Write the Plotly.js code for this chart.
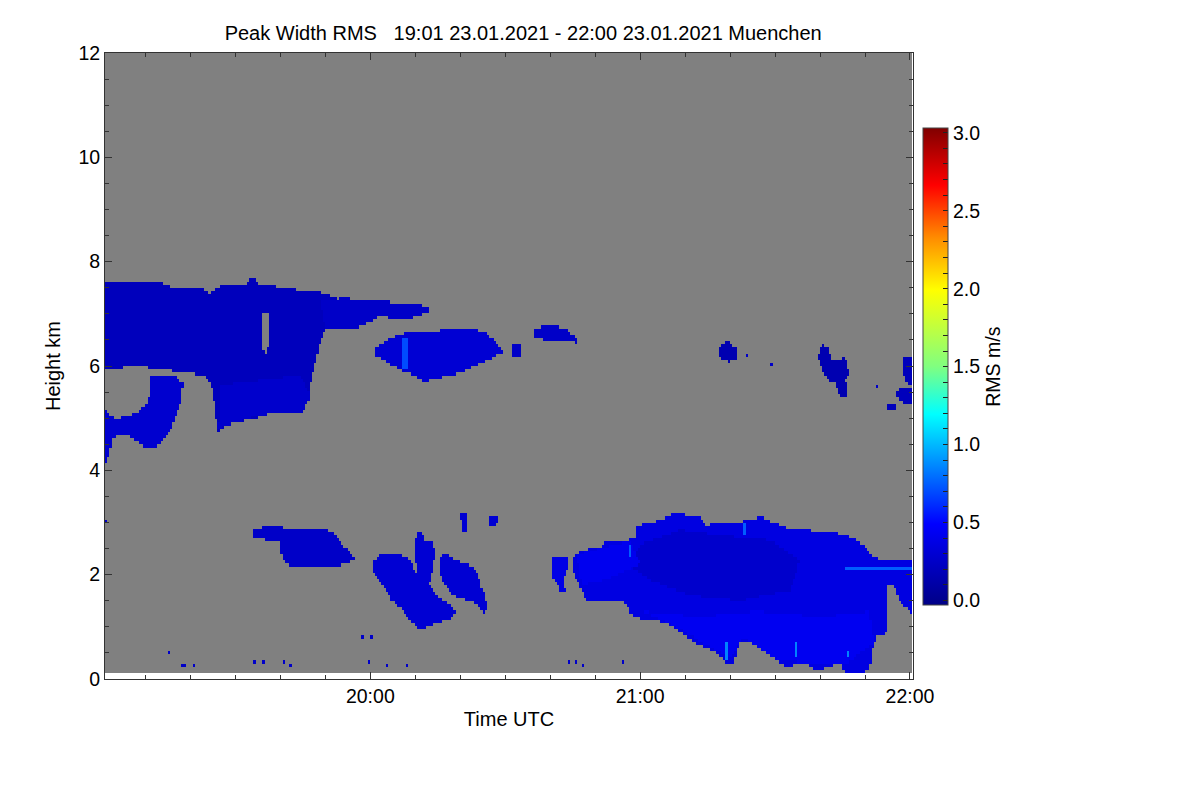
<!DOCTYPE html>
<html>
<head>
<meta charset="utf-8">
<script src="https://cdn.plot.ly/plotly-3.0.1.min.js"></script>
<style>body{margin:0;background:#fff}</style>
</head>
<body>
<div id="rms-chart" style="width:1200px;height:800px"></div>
<script>
// cloud outlines: minutes after 19:00 UTC / height in km
const upperLayerMin = [0.9, 8.9, 14.0, 16.7, 22.9, 24.4, 26.7, 32.2, 33.8, 35.1, 41.1, 44.4, 48.9, 52.2, 53.3, 51.8, 50.0, 48.9, 47.3, 46.2, 44.9, 43.8, 41.6, 38.4, 36.7, 34.9, 32.2, 28.4, 26.0, 25.6, 24.9, 24.0, 20.0, 14.4, 11.1, 7.8, 4.4, 0.9];
const upperLayerKm = [7.65, 7.63, 7.59, 7.49, 7.48, 7.40, 7.53, 7.55, 7.71, 7.57, 7.51, 7.46, 7.42, 7.30, 7.17, 6.98, 6.69, 6.50, 5.92, 5.44, 5.06, 5.25, 5.21, 5.21, 5.06, 5.00, 4.96, 4.87, 4.73, 5.16, 5.54, 5.77, 5.88, 5.92, 5.96, 6.02, 5.96, 5.96];
const curtainMin = [26.7, 44.4, 46.7, 44.9, 35.6, 26.2];
const curtainKm = [5.64, 5.83, 5.44, 5.12, 5.06, 4.81];
const lobeMin = [0.9, 2.9, 6.0, 8.9, 10.7, 11.1, 17.1, 18.4, 17.8, 16.0, 14.0, 11.8, 9.6, 6.0, 2.9, 0.9];
const lobeKm = [5.16, 5.00, 5.02, 5.16, 5.35, 5.83, 5.79, 5.67, 5.29, 4.83, 4.58, 4.43, 4.45, 4.68, 4.64, 4.01];
const bandMin = [48.9, 54.4, 58.9, 64.4, 68.9, 72.9, 72.9, 68.9, 65.6, 62.2, 58.9, 55.6, 53.3, 50.0];
const bandKm = [7.26, 7.30, 7.26, 7.23, 7.21, 7.15, 7.02, 6.92, 6.88, 6.98, 6.79, 6.69, 6.73, 6.69];
const holeMin = [35.8, 37.6, 37.2, 36.3];
const holeKm = [7.02, 7.02, 6.25, 6.25];

const midBlobMin = [60.7, 63.8, 67.3, 73.3, 77.8, 81.6, 86.0, 88.2, 89.6, 87.3, 83.8, 80.0, 76.2, 71.8, 69.6, 66.7, 63.8, 61.1];
const midBlobKm = [6.31, 6.50, 6.63, 6.65, 6.73, 6.75, 6.63, 6.44, 6.27, 6.17, 6.02, 5.87, 5.79, 5.71, 5.83, 5.92, 6.08, 6.21];
const midStreakMin = [67.0, 68.3, 68.3, 67.0];
const midStreakKm = [6.54, 6.54, 5.95, 5.95];
const midDotMin = [91.6, 93.3, 93.3, 91.6];
const midDotKm = [6.44, 6.40, 6.19, 6.19];
const smallUpperMin = [96.4, 97.8, 99.6, 102.2, 104.0, 105.6, 106.0, 103.3, 101.1, 98.9, 96.7];
const smallUpperKm = [6.69, 6.75, 6.79, 6.75, 6.69, 6.56, 6.44, 6.50, 6.46, 6.50, 6.54];

const puffAMin = [137.3, 138.7, 139.6, 140.2, 141.6, 141.8, 140.0, 138.2];
const puffAKm = [6.31, 6.44, 6.54, 6.40, 6.31, 6.17, 6.08, 6.11];
const puffBMin = [160.7, 161.8, 162.7, 164.4, 165.6, 166.2, 166.7, 165.6, 166.2, 165.6, 164.4, 164.0, 163.3, 162.2, 161.1, 160.0, 159.6];
const puffBKm = [6.44, 6.34, 6.15, 6.11, 6.17, 5.96, 5.87, 5.73, 5.54, 5.39, 5.39, 5.54, 5.67, 5.73, 5.83, 6.02, 6.21];
const edgeAMin = [178.4, 181.0, 181.0, 179.3, 178.4];
const edgeAKm = [6.17, 6.17, 5.67, 5.67, 5.88];
const edgeBMin = [177.1, 178.9, 181.0, 181.0, 178.9, 177.1];
const edgeBKm = [5.54, 5.60, 5.60, 5.25, 5.29, 5.39];
const edgeCMin = [174.9, 177.1, 176.7, 175.6, 174.9];
const edgeCKm = [5.31, 5.31, 5.16, 5.14, 5.21];

const lowWestMin = [34.0, 38.4, 40.7, 43.8, 48.2, 51.8, 53.3, 56.2, 56.7, 53.3, 48.9, 46.0, 42.2, 40.4, 40.0, 37.1, 34.0];
const lowWestKm = [2.89, 2.93, 2.91, 2.86, 2.89, 2.82, 2.61, 2.38, 2.28, 2.19, 2.15, 2.13, 2.19, 2.28, 2.61, 2.66, 2.72];
const fallAMin = [60.4, 61.6, 63.3, 66.7, 68.4, 69.6, 70.7, 72.2, 73.8, 75.6, 77.8, 78.9, 77.8, 75.1, 72.2, 70.7, 68.9, 66.7, 64.9, 63.3, 61.8, 60.7];
const fallAKm = [2.22, 2.34, 2.42, 2.38, 2.32, 2.15, 1.99, 1.90, 1.71, 1.55, 1.44, 1.28, 1.17, 1.09, 0.98, 0.98, 1.13, 1.36, 1.51, 1.71, 1.90, 2.05];
const fallBMin = [70.2, 70.7, 71.6, 72.2, 73.8, 74.4, 74.2, 73.3, 72.9, 71.1, 70.4, 70.0];
const fallBKm = [2.66, 2.80, 2.82, 2.66, 2.63, 2.47, 2.19, 1.90, 1.71, 1.80, 2.09, 2.38];
const fallCMin = [75.6, 76.2, 77.3, 80.0, 82.2, 84.0, 84.4, 85.6, 86.0, 85.1, 84.0, 82.2, 80.0, 78.2, 76.7, 75.6];
const fallCKm = [2.28, 2.42, 2.38, 2.24, 2.19, 2.05, 1.80, 1.61, 1.32, 1.23, 1.42, 1.51, 1.55, 1.61, 1.80, 1.99];
const wispAMin = [80.2, 81.6, 81.4, 80.4];
const wispAKm = [3.18, 3.18, 2.80, 2.80];
const wispBMin = [86.7, 88.9, 87.8, 86.7];
const wispBKm = [3.12, 3.14, 2.95, 2.91];

const lowEastLeadMin = [100.4, 103.8, 104.0, 102.9, 103.3, 102.2, 101.1, 100.4];
const lowEastLeadKm = [2.32, 2.32, 2.13, 1.94, 1.71, 1.71, 1.90, 1.99];
const lowEastMin = [105.1, 106.7, 108.9, 111.1, 111.8, 116.2, 118.9, 119.3, 122.2, 126.2, 127.8, 130.4, 133.3, 134.9, 136.2, 142.2, 146.7, 149.6, 152.7, 157.1, 161.6, 166.0, 168.2, 170.4, 171.8, 174.0, 181.0, 181.0, 180.0, 177.8, 176.2, 175.1, 174.9, 172.7, 171.8, 171.1, 168.9, 166.0, 164.4, 162.2, 159.3, 157.8, 156.2, 154.9, 152.7, 149.6, 146.7, 143.8, 142.2, 140.7, 139.3, 137.1, 132.7, 127.3, 126.0, 120.0, 117.8, 116.2, 108.2, 107.3, 105.1];
const lowEastKm = [2.34, 2.43, 2.51, 2.53, 2.61, 2.63, 2.72, 2.95, 2.99, 3.11, 3.20, 3.14, 3.09, 2.95, 2.99, 3.01, 3.11, 3.01, 2.91, 2.86, 2.82, 2.76, 2.66, 2.53, 2.34, 2.28, 2.28, 1.27, 1.27, 1.51, 1.84, 1.76, 0.88, 0.81, 0.61, 0.23, 0.05, 0.05, 0.36, 0.23, 0.17, 0.23, 0.42, 0.31, 0.23, 0.42, 0.61, 0.75, 0.69, 0.31, 0.31, 0.50, 0.69, 1.00, 1.09, 1.17, 1.27, 1.51, 1.51, 1.65, 2.05];
const lowEastCoreMin = [120.0, 128.9, 137.8, 148.9, 155.6, 153.3, 142.2, 131.1, 122.2, 117.8];
const lowEastCoreKm = [2.57, 2.86, 2.76, 2.66, 2.28, 1.71, 1.51, 1.61, 1.90, 2.19];
const lowEastBaseMin = [121, 133, 146, 160, 171, 172, 166, 157, 150, 143, 140, 137, 127];
const lowEastBaseKm = [1.3, 1.2, 1.3, 1.2, 1.3, 0.7, 0.3, 0.3, 0.4, 0.8, 0.4, 0.55, 1.05];
const lowEastWestMin = [106, 118, 120, 112, 107];
const lowEastWestKm = [2.4, 2.65, 2.2, 1.9, 1.8];
const streakAMin = [138.9, 139.6, 139.6, 138.9];
const streakAKm = [0.75, 0.75, 0.35, 0.35];
const streakBMin = [154.5, 155.2, 155.2, 154.5];
const streakBKm = [0.75, 0.75, 0.40, 0.40];
const streakCMin = [142.9, 143.5, 143.5, 142.9];
const streakCKm = [3.0, 3.0, 2.75, 2.75];
const streakDMin = [117.5, 118.2, 118.2, 117.5];
const streakDKm = [2.6, 2.6, 2.35, 2.35];
const streakEMin = [166.0, 166.6, 166.6, 166.0];
const streakEKm = [0.55, 0.55, 0.40, 0.40];
const lineMin = [165.6, 181.0, 181.0, 165.6];
const lineKm = [2.16, 2.16, 2.10, 2.10];

// isolated echoes
const speckMin = [15.1, 18.4, 18.9, 20.7, 34.0, 36.4, 40.7, 42.0, 58.0, 60.4, 59.8, 63.8, 68.4, 104.0, 105.6, 107.3, 116.2, 1.3, 143.8, 149.1, 172.9];
const speckKm = [0.50, 0.29, 0.29, 0.29, 0.35, 0.35, 0.35, 0.29, 0.81, 0.81, 0.35, 0.29, 0.29, 0.33, 0.33, 0.29, 0.33, 3.05, 6.19, 6.00, 5.62];
const speckRms = 0.25;

// [outline minutes, outline km, RMS m/s] - later entries paint over earlier ones
const regions = [
  [upperLayerMin, upperLayerKm, 0.2],
  [curtainMin, curtainKm, 0.27],
  [lobeMin, lobeKm, 0.28],
  [bandMin, bandKm, 0.25],
  [holeMin, holeKm, null],
  [midBlobMin, midBlobKm, 0.3],
  [midStreakMin, midStreakKm, 0.7],
  [midDotMin, midDotKm, 0.25],
  [smallUpperMin, smallUpperKm, 0.25],
  [puffAMin, puffAKm, 0.15],
  [puffBMin, puffBKm, 0.15],
  [edgeAMin, edgeAKm, 0.2],
  [edgeBMin, edgeBKm, 0.2],
  [edgeCMin, edgeCKm, 0.2],
  [lowWestMin, lowWestKm, 0.25],
  [fallAMin, fallAKm, 0.3],
  [fallBMin, fallBKm, 0.3],
  [fallCMin, fallCKm, 0.3],
  [wispAMin, wispAKm, 0.3],
  [wispBMin, wispBKm, 0.3],
  [lowEastLeadMin, lowEastLeadKm, 0.38],
  [lowEastMin, lowEastKm, 0.36],
  [lowEastCoreMin, lowEastCoreKm, 0.27],
  [lowEastBaseMin, lowEastBaseKm, 0.43],
  [lowEastWestMin, lowEastWestKm, 0.42],
  [streakAMin, streakAKm, 0.85],
  [streakBMin, streakBKm, 0.85],
  [streakCMin, streakCKm, 0.75],
  [streakDMin, streakDKm, 0.75],
  [streakEMin, streakEKm, 0.85],
  [lineMin, lineKm, 0.75],
];

const colorbarTicks = [];
for (let i = 0; i <= 30; i++) colorbarTicks.push(i / 10);
const colorbarLabels = colorbarTicks.map((v, i) => (i % 5 === 0 ? v.toFixed(1) : ""));

// radar grid
const timeStep = 0.5;
const heightStep = 0.06;
const gridTimes = [];
for (let t = 1.25; t < 180.6; t += timeStep) gridTimes.push(+t.toFixed(2));
const gridHeights = [];
for (let h = 0.15; h < 12; h += heightStep) gridHeights.push(+h.toFixed(3));

const insideOutline = (t, h, ts, hs) => {
  let inside = false;
  for (let a = 0, b = ts.length - 1; a < ts.length; b = a++) {
    if ((hs[a] > h) !== (hs[b] > h) && t < ((ts[b] - ts[a]) * (h - hs[a])) / (hs[b] - hs[a]) + ts[a]) {
      inside = !inside;
    }
  }
  return inside;
};

const rms = gridHeights.map(() => gridTimes.map(() => null));
for (const [ts, hs, value] of regions) {
  const tMin = Math.min(...ts), tMax = Math.max(...ts);
  const hMin = Math.min(...hs), hMax = Math.max(...hs);
  gridHeights.forEach((h, j) => {
    if (h < hMin || h > hMax) return;
    gridTimes.forEach((t, i) => {
      if (t < tMin || t > tMax) return;
      if (insideOutline(t, h, ts, hs)) rms[j][i] = value;
    });
  });
}
speckMin.forEach((t, k) => {
  const i = Math.round((t - gridTimes[0]) / timeStep);
  const j = Math.round((speckKm[k] - gridHeights[0]) / heightStep);
  if (rms[j] && i >= 0 && i < gridTimes.length) rms[j][i] = speckRms;
});

const noData = gridHeights.map(() => gridTimes.map(() => 0));

const fontFamily = "Liberation Sans, Arial, sans-serif";

const backgroundGrid = {
  type: "heatmap",
  x: gridTimes,
  y: gridHeights,
  z: noData,
  colorscale: [[0, "rgb(128,128,128)"], [1, "rgb(128,128,128)"]],
  showscale: false,
  hoverinfo: "skip",
};

const rmsHeatmap = {
  type: "heatmap",
  x: gridTimes,
  y: gridHeights,
  z: rms,
  zmin: -0.03,
  zmax: 3.03,
  colorscale: [
    [0, "rgb(0,0,135)"],
    [0.17, "rgb(0,0,255)"],
    [0.40, "rgb(0,255,255)"],
    [0.50, "rgb(128,255,128)"],
    [0.66, "rgb(255,255,0)"],
    [0.77, "rgb(255,140,0)"],
    [0.88, "rgb(255,0,0)"],
    [1, "rgb(128,0,0)"],
  ],
  colorbar: {
    x: 1.0124,
    xanchor: "left",
    xpad: 0,
    y: 0.499,
    yanchor: "middle",
    ypad: 0,
    len: 0.762,
    thickness: 25,
    outlinewidth: 1,
    outlinecolor: "#444",
    tickmode: "array",
    tickvals: colorbarTicks,
    ticktext: colorbarLabels,
    ticks: "inside",
    ticklen: 5,
    tickcolor: "#222",
    tickfont: { family: fontFamily, size: 19.5, color: "#000" },
    title: { text: "RMS m/s", side: "right", font: { family: fontFamily, size: 19.5, color: "#000" } },
  },
  hoverinfo: "skip",
};

const axisStyle = {
  showline: true,
  linecolor: "#333",
  linewidth: 1,
  mirror: "ticks",
  ticks: "inside",
  ticklen: 7,
  tickcolor: "#333",
  showgrid: false,
  zeroline: false,
  tickfont: { family: fontFamily, size: 19.5, color: "#000" },
};

const chartLayout = {
  width: 1200,
  height: 800,
  paper_bgcolor: "#fff",
  plot_bgcolor: "#fff",
  margin: { l: 105, r: 287, t: 53, b: 121, autoexpand: false },
  font: { family: fontFamily, color: "#000" },
  title: {
    text: "Peak Width RMS\u00a0\u00a0\u00a019:01 23.01.2021 - 22:00 23.01.2021 Muenchen",
    font: { family: fontFamily, size: 20, color: "#000" },
    x: 0.436,
    xanchor: "center",
    xref: "container",
    y: 0.959,
    yanchor: "middle",
    yref: "container",
  },
  xaxis: {
    ...axisStyle,
    range: [1, 180.67],
    tickmode: "array",
    tickvals: [60, 120, 180],
    ticktext: ["20:00", "21:00", "22:00"],
    minor: { dtick: 10, tick0: 0, ticks: "inside", ticklen: 4, tickcolor: "#333" },
    title: { text: "Time UTC", standoff: 5, font: { family: fontFamily, size: 20, color: "#000" } },
  },
  yaxis: {
    ...axisStyle,
    range: [0, 12],
    tick0: 0,
    dtick: 2,
    minor: { dtick: 0.5, tick0: 0, ticks: "inside", ticklen: 4, tickcolor: "#333" },
    title: { text: "Height km", standoff: 12, font: { family: fontFamily, size: 20, color: "#000" } },
  },
};

Plotly.newPlot("rms-chart", [backgroundGrid, rmsHeatmap], chartLayout, { displayModeBar: false, staticPlot: true });
</script>
</body>
</html>
